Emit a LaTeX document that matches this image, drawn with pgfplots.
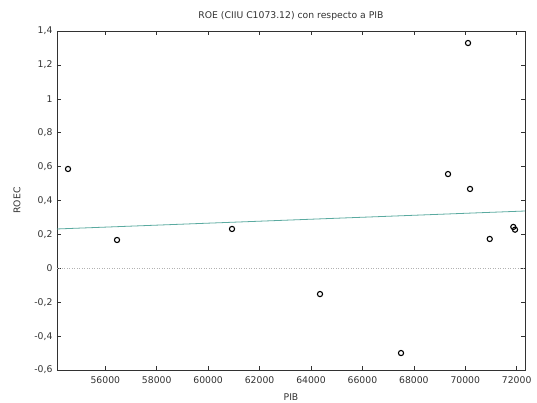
\documentclass[border=0pt]{standalone}
\usepackage{pgfplots}
\pgfplotsset{compat=1.18}
\usepackage{fontspec}
\setmainfont{DejaVu Sans}
\definecolor{fitc}{RGB}{90,170,160}
\definecolor{axc}{RGB}{50,50,50}
\begin{document}
\begin{tikzpicture}
\useasboundingbox (0,0) rectangle (537bp,403bp);
\begin{axis}[
  at={(57bp,33bp)}, anchor=south west,
  scale only axis, width=468bp, height=339bp,
  xmin=54121, xmax=72323, ymin=-0.6, ymax=1.4,
  xtick={56000,58000,...,72000},
  ytick={-0.6,-0.4,...,1.41},
  scaled x ticks=false,
  tick align=inside, major tick length=4bp,
  axis line style={axc, line width=0.6pt},
  tick style={axc, line width=0.5pt},
  /pgf/number format/assume math mode=true,
  /pgf/number format/use comma,
  /pgf/number format/1000 sep={},
  /pgf/number format/fixed,
  /pgf/number format/precision=1,
  tick label style={font=\fontsize{9.3}{10}\selectfont, text=axc},
  label style={font=\fontsize{9.3}{10}\selectfont, text=axc},
  title style={font=\fontsize{9.3}{10}\selectfont, text=axc, yshift=1bp},
  title={ROE (CIIU C1073.12) con respecto a PIB},
  xlabel={PIB}, ylabel={ROEC},
  xlabel style={yshift=-3.5bp},
  ylabel style={yshift=7bp},
  xticklabel style={yshift=-3bp},
  yticklabel style={xshift=-1bp},
  clip=false,
]
\addplot[gray!60, dotted, line width=0.5pt, forget plot] coordinates {(54121,0) (72323,0)};
\addplot[fitc, line width=0.8pt] coordinates {(54121,0.232) (72323,0.338)};
\addplot[only marks, mark=o, mark size=2.6bp, mark options={black, line width=1.1pt}] coordinates {
(54549,0.586)
(56455,0.167)
(60928,0.232)
(64350,-0.152)
(67501,-0.500)
(69329,0.556)
(70107,1.329)
(70185,0.468)
(70951,0.173)
(71869,0.244)
(71935,0.228)
};
\end{axis}
\end{tikzpicture}
\end{document}
